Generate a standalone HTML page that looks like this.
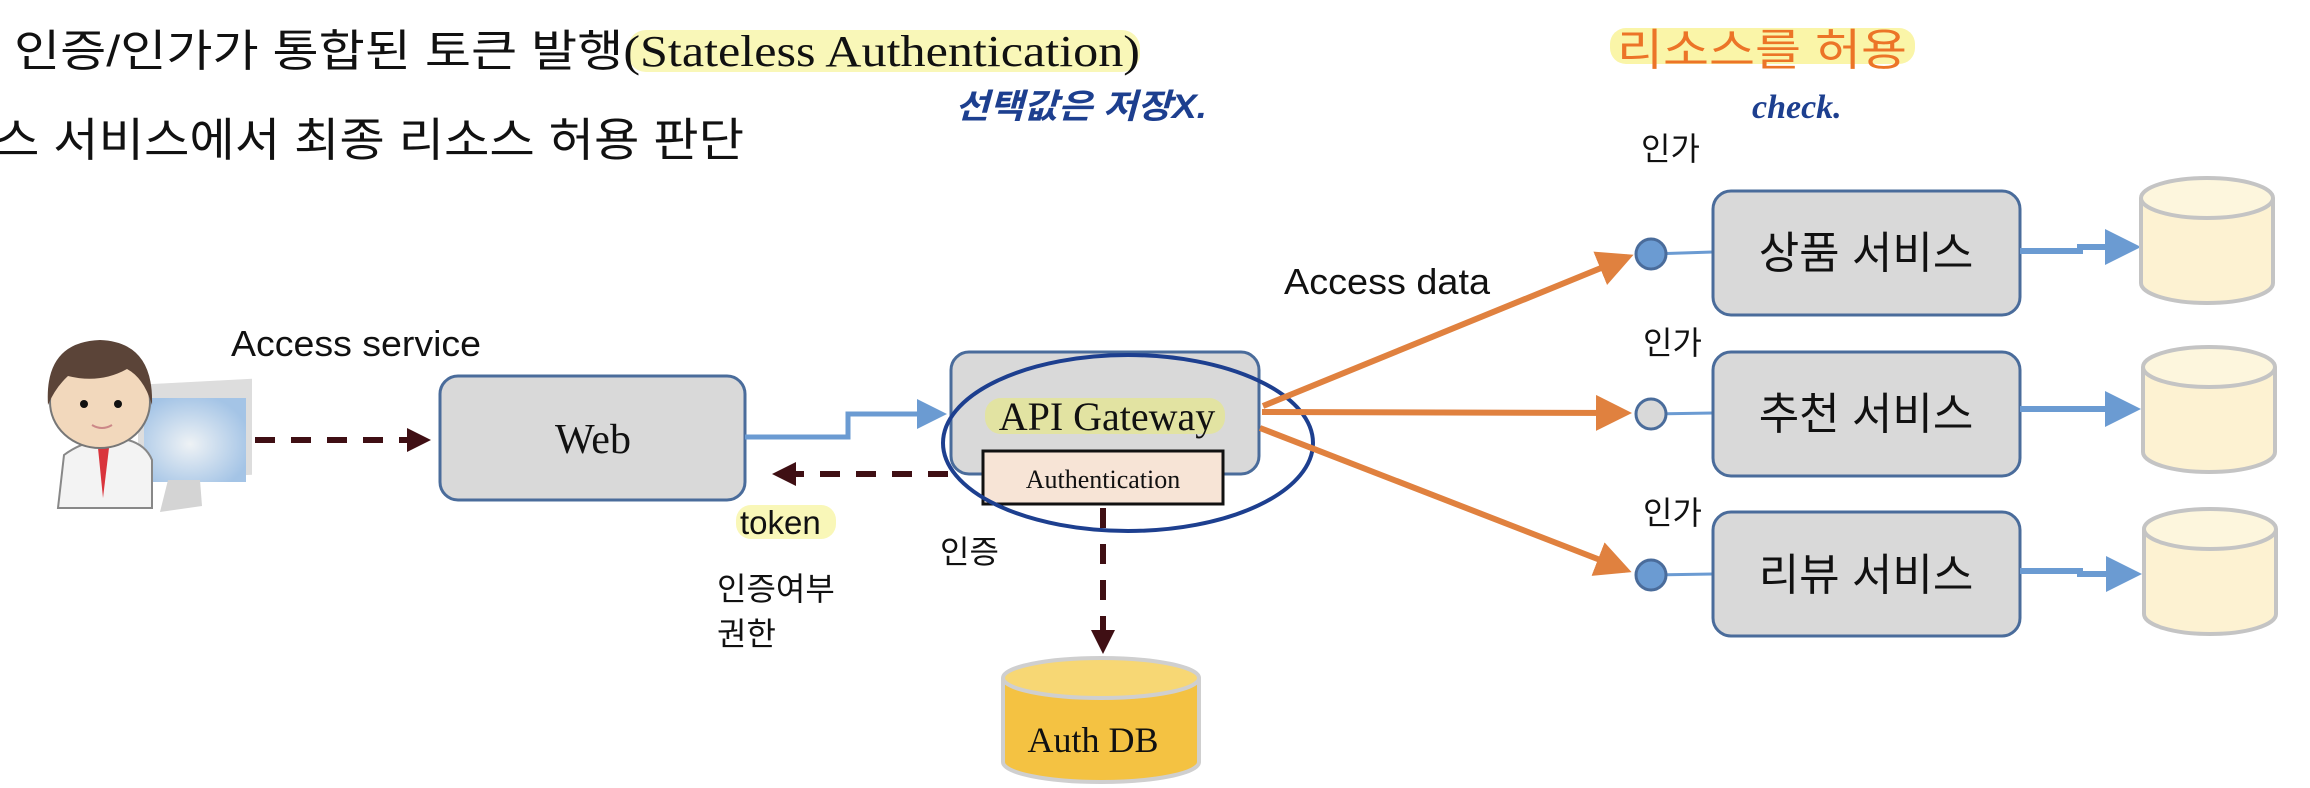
<!DOCTYPE html>
<html><head><meta charset="utf-8"><style>
html,body{margin:0;padding:0;background:#fff;width:2310px;height:788px;overflow:hidden}
svg text{font-family:"Liberation Sans","Noto Sans CJK KR",sans-serif}
svg text.serif, svg tspan.serif{font-family:"Liberation Serif","Noto Serif CJK KR",serif}
</style></head><body>
<svg width="2310" height="788" viewBox="0 0 2310 788" xmlns="http://www.w3.org/2000/svg">
<defs>
<marker id="ab" markerWidth="6" markerHeight="6" refX="5" refY="3" orient="auto" markerUnits="strokeWidth"><path d="M0,0 L6,3 L0,6 z" fill="#6b9bd2"/></marker>
<marker id="ao" markerWidth="6" markerHeight="6" refX="5" refY="3" orient="auto" markerUnits="strokeWidth"><path d="M0,0 L6,3 L0,6 z" fill="#e0813f"/></marker>
<marker id="ad" markerWidth="4" markerHeight="4" refX="3" refY="2" orient="auto" markerUnits="strokeWidth"><path d="M0,0 L4,2 L0,4 z" fill="#3f0f14"/></marker>
<radialGradient id="scr" cx="0.45" cy="0.55" r="0.6"><stop offset="0" stop-color="#eef2f5"/><stop offset="1" stop-color="#a4c4e6"/></radialGradient>
</defs>
<!-- titles -->
<rect x="628" y="30" width="512" height="42" rx="18" fill="#f9f7b8"/>
<text x="14" y="66" font-size="44" fill="#111" textLength="1126" lengthAdjust="spacingAndGlyphs">인증/인가가 통합된 토큰 발행<tspan class="serif">(Stateless Authentication)</tspan></text>
<text x="-6" y="156" font-size="46" fill="#111" textLength="750" lengthAdjust="spacingAndGlyphs">스 서비스에서 최종 리소스 허용 판단</text>
<text x="955" y="118" font-size="34" fill="#1d3f8f" font-style="italic" font-weight="bold" textLength="252" lengthAdjust="spacingAndGlyphs">선택값은  저장X.</text>
<rect x="1610" y="28" width="305" height="36" rx="16" fill="#faf5a8"/>
<text x="1617" y="65" font-size="44" fill="#ec7427" textLength="290" lengthAdjust="spacingAndGlyphs">리소스를 허용</text>
<text x="1752" y="118" font-size="34" fill="#1d3f8f" font-style="italic" font-weight="bold" class="serif">check.</text>

<!-- person -->
<g>
<rect x="138" y="392" width="114" height="96" fill="#ddd" transform="skewY(-3)"/>
<rect x="144" y="398" width="102" height="84" fill="url(#scr)"/>
<path d="M168,480 L200,480 L202,506 L160,512 Z" fill="#d4d4d4"/>
<path d="M58,508 L64,455 Q80,443 100,440 L128,440 Q146,445 152,460 L152,508 Z" fill="#f3f3f3" stroke="#888" stroke-width="2"/>
<path d="M98,448 L103,498 L109,448 Z" fill="#d9343c"/>
<ellipse cx="100" cy="402" rx="50" ry="46" fill="#f2d8bc" stroke="#777" stroke-width="2"/>
<path d="M48,405 Q44,342 100,340 Q154,342 152,405 Q144,378 127,369 Q100,384 68,376 Q55,388 48,405Z" fill="#5b4438"/>
<circle cx="84" cy="404" r="4" fill="#111"/><circle cx="118" cy="404" r="4" fill="#111"/>
<path d="M92,425 Q102,431 112,425" stroke="#c88" stroke-width="2" fill="none"/>
</g>

<!-- person -> web dashed -->
<line x1="255" y1="440" x2="425" y2="440" stroke="#3f0f14" stroke-width="6" stroke-dasharray="20,16" marker-end="url(#ad)"/>
<text x="231" y="356" font-size="36" fill="#111" textLength="250" lengthAdjust="spacingAndGlyphs">Access service</text>

<!-- Web -->
<rect x="440" y="376" width="305" height="124" rx="18" fill="#d9d9d9" stroke="#4a6c9b" stroke-width="3"/>
<text x="593" y="453" font-size="42" text-anchor="middle" class="serif" fill="#111">Web</text>

<!-- web -> gateway -->
<polyline points="745,437 848,437 848,414 942,414" fill="none" stroke="#6b9bd2" stroke-width="5" marker-end="url(#ab)"/>

<!-- gateway -->
<rect x="951" y="352" width="308" height="122" rx="18" fill="#d9d9d9" stroke="#4a6c9b" stroke-width="3"/>
<rect x="985" y="398" width="240" height="36" rx="16" fill="#e2e3a2"/>
<text x="1107" y="430" font-size="40" text-anchor="middle" class="serif" fill="#111">API Gateway</text>
<rect x="983" y="451" width="240" height="53" fill="#f7e4d6" stroke="#111" stroke-width="3"/>
<text x="1103" y="488" font-size="26" text-anchor="middle" class="serif" fill="#111">Authentication</text>
<ellipse cx="1128" cy="443" rx="185" ry="88" fill="none" stroke="#1d3f8f" stroke-width="4"/>

<!-- back dashed -->
<line x1="948" y1="474" x2="778" y2="474" stroke="#3f0f14" stroke-width="6" stroke-dasharray="20,16" marker-end="url(#ad)"/>
<rect x="736" y="505" width="100" height="34" rx="15" fill="#f9f7b8"/>
<text x="740" y="534" font-size="33" fill="#111">token</text>
<text x="940" y="563" font-size="32" fill="#111">인증</text>
<text x="717" y="600" font-size="32" fill="#111">인증여부</text>
<text x="717" y="645" font-size="32" fill="#111">권한</text>

<!-- down dashed -->
<line x1="1103" y1="508" x2="1103" y2="648" stroke="#3f0f14" stroke-width="6" stroke-dasharray="20,16" marker-end="url(#ad)"/>

<!-- Auth DB -->
<path d="M1003,678 L1003,762 A98,20 0 0 0 1199,762 L1199,678" fill="#f4c242" stroke="#cfcfcf" stroke-width="4"/>
<ellipse cx="1101" cy="678" rx="98" ry="20" fill="#f7d774" stroke="#cfcfcf" stroke-width="4"/>
<text x="1093" y="752" font-size="36" text-anchor="middle" class="serif" fill="#111">Auth DB</text>

<!-- orange -->
<line x1="1263" y1="406" x2="1628" y2="257" stroke="#e0813f" stroke-width="6" marker-end="url(#ao)"/>
<line x1="1262" y1="412" x2="1626" y2="413" stroke="#e0813f" stroke-width="6" marker-end="url(#ao)"/>
<line x1="1260" y1="428" x2="1626" y2="570" stroke="#e0813f" stroke-width="6" marker-end="url(#ao)"/>
<text x="1284" y="294" font-size="36" fill="#111" textLength="206" lengthAdjust="spacingAndGlyphs">Access data</text>

<!-- services -->
<g>
<line x1="1651" y1="254" x2="1713" y2="252" stroke="#6b9bd2" stroke-width="3"/>
<circle cx="1651" cy="254" r="15" fill="#6b9bd2" stroke="#4a6c9b" stroke-width="3"/>
<line x1="1651" y1="414" x2="1713" y2="413" stroke="#6b9bd2" stroke-width="3"/>
<circle cx="1651" cy="414" r="15" fill="#d9d9d9" stroke="#4a6c9b" stroke-width="3"/>
<line x1="1651" y1="575" x2="1713" y2="574" stroke="#6b9bd2" stroke-width="3"/>
<circle cx="1651" cy="575" r="15" fill="#6b9bd2" stroke="#4a6c9b" stroke-width="3"/>

<text x="1641" y="160" font-size="32" fill="#111">인가</text>
<text x="1643" y="354" font-size="32" fill="#111">인가</text>
<text x="1643" y="524" font-size="32" fill="#111">인가</text>

<rect x="1713" y="191" width="307" height="124" rx="18" fill="#d9d9d9" stroke="#4a6c9b" stroke-width="3"/>
<text x="1866" y="268" font-size="44" text-anchor="middle" fill="#111">상품 서비스</text>
<rect x="1713" y="352" width="307" height="124" rx="18" fill="#d9d9d9" stroke="#4a6c9b" stroke-width="3"/>
<text x="1866" y="429" font-size="44" text-anchor="middle" fill="#111">추천 서비스</text>
<rect x="1713" y="512" width="307" height="124" rx="18" fill="#d9d9d9" stroke="#4a6c9b" stroke-width="3"/>
<text x="1866" y="590" font-size="44" text-anchor="middle" fill="#111">리뷰 서비스</text>

<polyline points="2020,251 2080,251 2080,247 2135,247" fill="none" stroke="#6b9bd2" stroke-width="6" marker-end="url(#ab)"/>
<polyline points="2020,409 2135,409" fill="none" stroke="#6b9bd2" stroke-width="6" marker-end="url(#ab)"/>
<polyline points="2020,571 2080,571 2080,574 2136,574" fill="none" stroke="#6b9bd2" stroke-width="6" marker-end="url(#ab)"/>

<path d="M2141,198 L2141,283 A66,20 0 0 0 2273,283 L2273,198" fill="#fdf2d2" stroke="#c4c4c4" stroke-width="4"/>
<ellipse cx="2207" cy="198" rx="66" ry="20" fill="#fdf6dd" stroke="#c4c4c4" stroke-width="4"/>
<path d="M2143,367 L2143,452 A66,20 0 0 0 2275,452 L2275,367" fill="#fdf2d2" stroke="#c4c4c4" stroke-width="4"/>
<ellipse cx="2209" cy="367" rx="66" ry="20" fill="#fdf6dd" stroke="#c4c4c4" stroke-width="4"/>
<path d="M2144,529 L2144,614 A66,20 0 0 0 2276,614 L2276,529" fill="#fdf2d2" stroke="#c4c4c4" stroke-width="4"/>
<ellipse cx="2210" cy="529" rx="66" ry="20" fill="#fdf6dd" stroke="#c4c4c4" stroke-width="4"/>
</g>
</svg>
</body></html>
